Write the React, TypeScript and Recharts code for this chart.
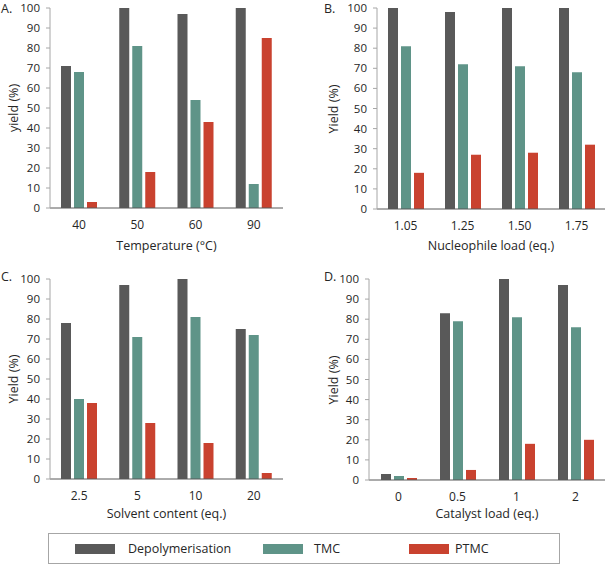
import { Bar, BarChart, Label, XAxis, YAxis } from "recharts";

const seriesNames = ["Depolymerisation", "TMC", "PTMC"];
const seriesColors = ["#595959", "#5f9488", "#c9422f"];
const yTicks = [0, 10, 20, 30, 40, 50, 60, 70, 80, 90, 100];

const tempCats = ["40", "50", "60", "90"];
const tempDep = [71, 100, 97, 100];
const tempTmc = [68, 81, 54, 12];
const tempPtmc = [3, 18, 43, 85];

const nucCats = ["1.05", "1.25", "1.50", "1.75"];
const nucDep = [100, 98, 100, 100];
const nucTmc = [81, 72, 71, 68];
const nucPtmc = [18, 27, 28, 32];

const solvCats = ["2.5", "5", "10", "20"];
const solvDep = [78, 97, 100, 75];
const solvTmc = [40, 71, 81, 72];
const solvPtmc = [38, 28, 18, 3];

const catCats = ["0", "0.5", "1", "2"];
const catDep = [3, 83, 100, 97];
const catTmc = [2, 79, 81, 76];
const catPtmc = [1, 5, 18, 20];

const font = "'Open Sans', sans-serif";
const textColor = "#262626";

type PanelProps = {
  letter: string;
  letterX: number;
  letterY: number;
  cats: string[];
  dep: number[];
  tmc: number[];
  ptmc: number[];
  xLabel: string;
  yLabel: string;
  yLabelX: number;
  left: number;
  top: number;
  width: number;
  height: number;
  marginTop: number;
  marginRight: number;
  yWidth: number;
  xHeight: number;
  labelOffset: number;
};

function Panel(p: PanelProps) {
  const rows = p.cats.map((c, i) => ({
    cat: c,
    dep: p.dep[i],
    tmc: p.tmc[i],
    ptmc: p.ptmc[i],
  }));
  const plotH = p.height - p.marginTop - p.xHeight;
  const yMid = p.marginTop + plotH / 2;
  return (
    <div style={{ position: "absolute", left: p.left, top: p.top, width: p.width, height: p.height }}>
      <BarChart
        width={p.width}
        height={p.height}
        data={rows}
        margin={{ top: p.marginTop, right: p.marginRight, bottom: 0, left: 0 }}
        barSize={10}
        barGap={3}
        style={{ fontFamily: font }}
      >
        <XAxis
          dataKey="cat"
          height={p.xHeight}
          tickLine={false}
          tickMargin={6}
          axisLine={{ stroke: "#595959" }}
          tick={{ fill: textColor, fontSize: 12 }}
        >
          <Label
            value={p.xLabel}
            position="insideBottom"
            offset={p.labelOffset}
            style={{ fill: textColor, fontSize: 12.5, fontFamily: font }}
          />
        </XAxis>
        <XAxis
          xAxisId="top"
          dataKey="cat"
          orientation="top"
          height={0}
          tick={false}
          tickLine={false}
          axisLine={{ stroke: "#a6a6a6" }}
        />
        <YAxis
          domain={[0, 100]}
          ticks={yTicks}
          width={p.yWidth}
          tickSize={4}
          tickMargin={6}
          interval={0}
          allowDataOverflow
          axisLine={{ stroke: "#a6a6a6" }}
          tickLine={{ stroke: "#a6a6a6" }}
          tick={{ fill: textColor, fontSize: 11.5 }}
        />
        <YAxis
          yAxisId="right"
          orientation="right"
          domain={[0, 100]}
          width={0}
          tick={false}
          tickLine={false}
          axisLine={{ stroke: "#a6a6a6" }}
        />
        <Bar dataKey="dep" name={seriesNames[0]} fill={seriesColors[0]} isAnimationActive={false} />
        <Bar dataKey="tmc" name={seriesNames[1]} fill={seriesColors[1]} isAnimationActive={false} />
        <Bar dataKey="ptmc" name={seriesNames[2]} fill={seriesColors[2]} isAnimationActive={false} />
      </BarChart>
      <div
        style={{
          position: "absolute",
          left: p.yLabelX,
          top: yMid,
          transform: "translate(-50%, -50%) rotate(-90deg)",
          whiteSpace: "nowrap",
          fontFamily: font,
          fontSize: 12.5,
          color: textColor,
        }}
      >
        {p.yLabel}
      </div>
      <div
        style={{
          position: "absolute",
          left: p.letterX,
          top: p.letterY,
          fontFamily: font,
          fontSize: 12.5,
          color: textColor,
          lineHeight: "14px",
        }}
      >
        {p.letter}
      </div>
    </div>
  );
}

export default function App() {
  return (
    <div style={{ position: "absolute", left: 0, top: 0, width: 607, height: 566, background: "#fff" }}>
      <Panel
        letter="A." letterX={1} letterY={2}
        cats={tempCats} dep={tempDep} tmc={tempTmc} ptmc={tempPtmc}
        xLabel="Temperature (°C)" yLabel="yield (%)" yLabelX={13}
        left={0} top={0} width={300} height={258}
        marginTop={8} marginRight={17} yWidth={50} xHeight={50} labelOffset={8}
      />
      <Panel
        letter="B." letterX={24} letterY={2}
        cats={nucCats} dep={nucDep} tmc={nucTmc} ptmc={nucPtmc}
        xLabel="Nucleophile load (eq.)" yLabel="Yield (%)" yLabelX={33}
        left={300} top={0} width={307} height={258}
        marginTop={8} marginRight={2} yWidth={77} xHeight={49} labelOffset={8}
      />
      <Panel
        letter="C." letterX={1} letterY={10}
        cats={solvCats} dep={solvDep} tmc={solvTmc} ptmc={solvPtmc}
        xLabel="Solvent content (eq.)" yLabel="Yield (%)" yLabelX={13}
        left={0} top={260} width={300} height={266}
        marginTop={19} marginRight={17} yWidth={50} xHeight={47} labelOffset={8}
      />
      <Panel
        letter="D." letterX={24} letterY={10}
        cats={catCats} dep={catDep} tmc={catTmc} ptmc={catPtmc}
        xLabel="Catalyst load (eq.)" yLabel="Yield (%)" yLabelX={33}
        left={300} top={260} width={307} height={266}
        marginTop={19} marginRight={2} yWidth={69} xHeight={46} labelOffset={8}
      />
      <div
        style={{
          position: "absolute",
          left: 48,
          top: 533,
          width: 510,
          height: 29,
          border: "1px solid #a6a6a6",
          background: "#fff",
          fontFamily: font,
          fontSize: 12.5,
          color: textColor,
        }}
      >
        {seriesNames.map((n, i) => (
          <div
            key={n}
            style={{
              position: "absolute",
              left: [26, 214, 360][i],
              top: 0,
              height: 29,
              display: "flex",
              alignItems: "center",
            }}
          >
            <span style={{ display: "inline-block", width: 40, height: 10, background: seriesColors[i] }} />
            <span style={{ marginLeft: [13, 11, 6][i] }}>{n}</span>
          </div>
        ))}
      </div>
    </div>
  );
}
